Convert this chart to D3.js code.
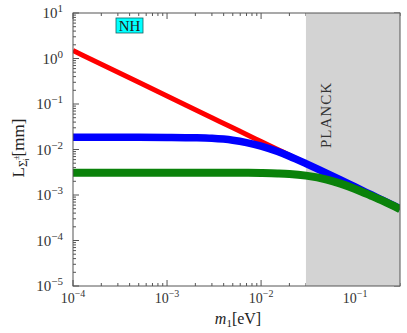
<!DOCTYPE html>
<html>
<head>
<meta charset="utf-8">
<script src="https://cdn.jsdelivr.net/npm/d3@7"></script>
<style>
  html, body { margin: 0; padding: 0; background: #fff; }
  svg { display: block; }
  text { font-family: "Liberation Serif", "DejaVu Serif", serif; }
</style>
</head>
<body>
<svg id="chart" width="407" height="333"></svg>
<script>
// ---- data ----
const m1 = [1e-4, 2e-4, 5e-4, 1e-3, 2e-3, 3e-3, 5e-3, 7e-3, 1e-2, 1.5e-2, 2e-2, 3e-2, 5e-2, 7e-2, 0.1, 0.15, 0.2, 0.3];
const redL   = [1.5, 0.75, 0.3, 0.15, 0.075, 0.05, 0.03, 0.0214, 0.015, 0.01, 0.0075, 0.005, 0.003, 0.00214, 0.0015, 0.001, 0.00075, 0.0005];
const blueL  = [0.0185, 0.0185, 0.0185, 0.0184, 0.0181, 0.0176, 0.016, 0.0142, 0.0119, 0.009, 0.0071, 0.0049, 0.003, 0.00215, 0.0015, 0.001, 0.00075, 0.0005];
const greenL = [0.0031, 0.0031, 0.0031, 0.0031, 0.0031, 0.0031, 0.00309, 0.00307, 0.00304, 0.00298, 0.0029, 0.00267, 0.00219, 0.00178, 0.00136, 0.00095, 0.00073, 0.00049];
const xMajor = [1e-4, 1e-3, 1e-2, 1e-1];
const xMajorExp = ["−4", "−3", "−2", "−1"];
const yMajor = [1e-5, 1e-4, 1e-3, 1e-2, 1e-1, 1, 10];
const yMajorExp = ["−5", "−4", "−3", "−2", "−1", "0", "1"];
const planckRange = [0.03, 0.3];

// ---- layout ----
const svg = d3.select("#chart");
const X0 = 73, X1 = 400, Y0 = 13, Y1 = 286;
const x = d3.scaleLog().domain([1e-4, 0.3]).range([X0, X1]);
const y = d3.scaleLog().domain([1e-5, 10]).range([Y1, Y0]);
const axisColor = "#555";

function minors(lo, hi) {
  const out = [];
  for (let e = Math.floor(Math.log10(lo)); e <= Math.ceil(Math.log10(hi)); e++) {
    for (let k = 1; k <= 9; k++) {
      const v = k * Math.pow(10, e);
      if (v >= lo * 0.9999 && v <= hi * 1.0001) out.push({v, major: k === 1});
    }
  }
  return out;
}
const xt = minors(1e-4, 0.3), yt = minors(1e-5, 10);
const g = svg.append("g");
xt.forEach(t => {
  const len = t.major ? 6 : 3;
  g.append("line").attr("x1", x(t.v)).attr("x2", x(t.v)).attr("y1", Y1).attr("y2", Y1 - len).attr("stroke", axisColor);
  g.append("line").attr("x1", x(t.v)).attr("x2", x(t.v)).attr("y1", Y0).attr("y2", Y0 + len).attr("stroke", axisColor);
});
yt.forEach(t => {
  const len = t.major ? 6 : 3;
  g.append("line").attr("y1", y(t.v)).attr("y2", y(t.v)).attr("x1", X0).attr("x2", X0 + len).attr("stroke", axisColor);
  g.append("line").attr("y1", y(t.v)).attr("y2", y(t.v)).attr("x1", X1).attr("x2", X1 - len).attr("stroke", axisColor);
});

// Planck band
svg.append("rect")
  .attr("x", x(planckRange[0])).attr("y", Y0)
  .attr("width", x(planckRange[1]) - x(planckRange[0])).attr("height", Y1 - Y0)
  .attr("fill", "#d3d3d3");

// curves
svg.append("clipPath").attr("id", "clip").append("rect")
  .attr("x", X0).attr("y", Y0).attr("width", X1 - X0).attr("height", Y1 - Y0);
const line = d3.line().x(d => x(d[0])).y(d => y(d[1])).curve(d3.curveMonotoneX);
const series = [
  {vals: redL, color: "#ff0000", w: 5},
  {vals: blueL, color: "#0000ff", w: 7.5},
  {vals: greenL, color: "#0a820a", w: 8}
];
series.forEach(s => {
  svg.append("path")
    .attr("d", line(m1.map((m, i) => [m, s.vals[i]])))
    .attr("fill", "none").attr("stroke", s.color).attr("stroke-width", s.w)
    .attr("clip-path", "url(#clip)");
});

// frame
svg.append("rect").attr("x", X0).attr("y", Y0).attr("width", X1 - X0).attr("height", Y1 - Y0)
  .attr("fill", "none").attr("stroke", axisColor).attr("stroke-width", 1);

// tick labels
xMajor.forEach((v, i) => {
  const t = svg.append("text").attr("x", x(v)).attr("y", 303).attr("text-anchor", "middle")
    .attr("font-size", 14).attr("fill", "#333");
  t.append("tspan").text("10");
  t.append("tspan").attr("dy", -6).attr("font-size", 10).text(xMajorExp[i]);
});
yMajor.forEach((v, i) => {
  const t = svg.append("text").attr("x", 63).attr("y", y(v) + 5).attr("text-anchor", "end")
    .attr("font-size", 15).attr("fill", "#333");
  t.append("tspan").text("10");
  t.append("tspan").attr("dy", -6).attr("font-size", 11).text(yMajorExp[i]);
});

// axis titles
const xl = svg.append("text").attr("x", 238).attr("y", 324).attr("text-anchor", "middle")
  .attr("font-size", 16).attr("fill", "#222");
xl.append("tspan").attr("font-style", "italic").text("m");
xl.append("tspan").attr("font-size", 11).attr("dy", 3).text("1");
xl.append("tspan").attr("dy", -3).text("[eV]");

const yl = svg.append("text").attr("transform", "translate(24,148) rotate(-90)")
  .attr("text-anchor", "middle").attr("font-size", 17).attr("fill", "#222");
yl.append("tspan").text("L");
yl.append("tspan").attr("font-size", 12).attr("dy", 3).text("Σ");
yl.append("tspan").attr("font-size", 8).attr("dy", -8).text("±");
yl.append("tspan").attr("font-size", 8).attr("dx", -5).attr("dy", 10).text("i");
yl.append("tspan").attr("dy", -5).attr("dx", 2).text("[mm]");

// NH box
svg.append("rect").attr("x", 116).attr("y", 18).attr("width", 27).attr("height", 15)
  .attr("fill", "#00ffff").attr("stroke", "#1a6060").attr("stroke-width", 0.8);
svg.append("text").attr("x", 129.5).attr("y", 31).attr("text-anchor", "middle")
  .attr("font-size", 15).attr("fill", "#222").text("NH");

// PLANCK label
svg.append("text").attr("transform", "translate(331,115) rotate(-90)")
  .attr("text-anchor", "middle").attr("font-size", 15).attr("letter-spacing", 1)
  .attr("fill", "#333").text("PLANCK");
</script>
</body>
</html>
